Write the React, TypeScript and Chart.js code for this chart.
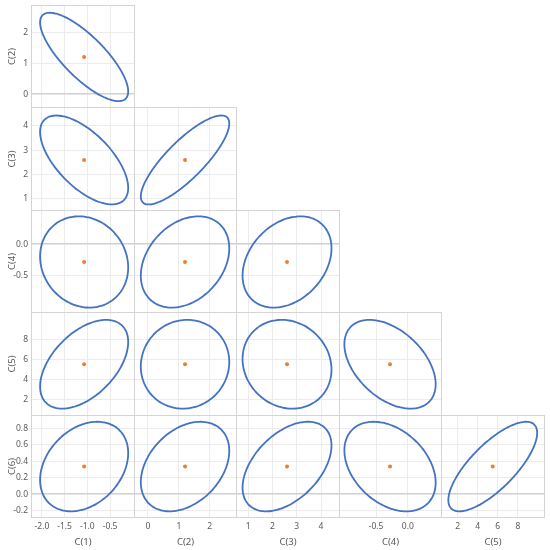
import React, { useEffect, useRef } from "react";
import { Chart, registerables } from "chart.js";
Chart.register(...registerables);

// ---- data ----
const varNames = ["C(1)", "C(2)", "C(3)", "C(4)", "C(5)", "C(6)"];
const means = [-1.07, 1.2, 2.6, -0.28, 5.5, 0.336];
const halfExtents = [0.97, 1.43, 1.83, 0.72, 4.42, 0.545];
const axisMin = [-2.24, -0.45, 0.5, -1.085, 0.35, -0.29];
const axisMax = [0.05, 2.88, 4.78, 0.54, 10.7, 0.963];
const tickC1 = [-2.0, -1.5, -1.0, -0.5];
const tickC2 = [0, 1, 2];
const tickC3 = [1, 2, 3, 4];
const tickC4 = [-0.5, 0.0];
const tickC5 = [2, 4, 6, 8];
const tickC6 = [-0.2, 0.0, 0.2, 0.4, 0.6, 0.8];
const tickLists = [tickC1, tickC2, tickC3, tickC4, tickC5, tickC6];
const tickDecimals = [1, 0, 0, 1, 0, 1];
// correlation of each pair [x variable, y variable, r]
const correlations: [number, number, number][] = [
  [0, 1, -0.78],
  [0, 2, -0.63],
  [1, 2, 0.82],
  [0, 3, -0.12],
  [1, 3, 0.3],
  [2, 3, 0.3],
  [0, 4, 0.5],
  [1, 4, 0.05],
  [2, 4, -0.12],
  [3, 4, -0.45],
  [0, 5, 0.3],
  [1, 5, 0.35],
  [2, 5, 0.47],
  [3, 5, -0.36],
  [4, 5, 0.75],
];

// ---- layout ----
const colEdges = [31, 134, 236, 339, 441, 544];
const rowEdges = [5, 107, 210, 312, 415, 517];
const Y_AXIS_W = 31;
const X_AXIS_H = 34;
const TICK_FONT = { family: "'Noto Sans', sans-serif", size: 8.5 };
const TITLE_FONT = { family: "'Noto Sans', sans-serif", size: 9.5 };
const TEXT_COLOR = "#595959";
const LINE_COLOR = "#4472C4";
const DOT_COLOR = "#ED7D31";

function ellipsePoints(xi: number, yi: number, r: number) {
  const pts: { x: number; y: number }[] = [];
  const n = 120;
  const s = Math.sqrt(1 - r * r);
  for (let k = 0; k <= n; k++) {
    const t = (2 * Math.PI * k) / n;
    pts.push({
      x: means[xi] + halfExtents[xi] * Math.cos(t),
      y: means[yi] + halfExtents[yi] * (r * Math.cos(t) + s * Math.sin(t)),
    });
  }
  return pts;
}

const borderPlugin = {
  id: "cellBorder",
  beforeDatasetsDraw(chart: any) {
    const { ctx, chartArea: a } = chart;
    ctx.save();
    ctx.strokeStyle = "#d4d4d4";
    ctx.lineWidth = 1;
    ctx.strokeRect(a.left + 0.5, a.top + 0.5, a.right - a.left - 1, a.bottom - a.top - 1);
    ctx.restore();
  },
};

function Cell({ xi, yi, r, ci, ri }: { xi: number; yi: number; r: number; ci: number; ri: number }) {
  const ref = useRef<HTMLCanvasElement>(null);
  const isLeft = ci === 0;
  const isBottom = ri === 4;
  const cellW = colEdges[ci + 1] - colEdges[ci] + 1;
  const cellH = rowEdges[ri + 1] - rowEdges[ri] + 1;
  const w = cellW + (isLeft ? Y_AXIS_W : 0);
  const h = cellH + (isBottom ? X_AXIS_H : 0);
  const left = colEdges[ci] - (isLeft ? Y_AXIS_W : 0);
  const top = rowEdges[ri];

  useEffect(() => {
    const chart = new Chart(ref.current!, {
      type: "scatter",
      data: {
        datasets: [
          {
            data: ellipsePoints(xi, yi, r),
            showLine: true,
            borderColor: LINE_COLOR,
            borderWidth: 1.8,
            borderJoinStyle: "round",
            borderCapStyle: "round",
            pointRadius: 0,
            pointHoverRadius: 0,
            fill: false,
            tension: 0.2,
          },
          {
            data: [{ x: means[xi], y: means[yi] }],
            pointRadius: 2,
            pointHoverRadius: 2,
            pointBackgroundColor: DOT_COLOR,
            pointBorderWidth: 0,
            showLine: false,
          },
        ],
      },
      options: {
        responsive: false,
        animation: false,
        events: [],
        layout: { padding: 0, autoPadding: false },
        plugins: { legend: { display: false }, tooltip: { enabled: false } },
        scales: {
          x: {
            type: "linear",
            min: axisMin[xi],
            max: axisMax[xi],
            border: { display: false },
            grid: { drawTicks: false, color: "#ececec", lineWidth: 1 },
            ticks: {
              display: isBottom,
              padding: 3,
              font: TICK_FONT,
              color: TEXT_COLOR,
              maxRotation: 0,
              autoSkip: false,
              callback: (v: any) => Number(v).toFixed(tickDecimals[xi]),
            },
            title: {
              display: isBottom,
              text: varNames[xi],
              font: TITLE_FONT,
              color: TEXT_COLOR,
              padding: { top: 0, bottom: 4 },
            },
            afterBuildTicks: (s: any) => {
              s.ticks = tickLists[xi].map((v) => ({ value: v }));
            },
            afterFit: (s: any) => {
              s.height = isBottom ? X_AXIS_H : 0;
              s.paddingLeft = 0;
              s.paddingRight = 0;
            },
          },
          y: {
            type: "linear",
            min: axisMin[yi],
            max: axisMax[yi],
            border: { display: false },
            grid: {
              drawTicks: false,
              color: (c: any) => (c.tick && c.tick.value === 0 ? "#d0d0d0" : "#ececec"),
              lineWidth: (c: any) => (c.tick && c.tick.value === 0 ? 1.5 : 1),
            },
            ticks: {
              display: isLeft,
              padding: 3,
              font: TICK_FONT,
              color: TEXT_COLOR,
              autoSkip: false,
              callback: (v: any) => Number(v).toFixed(tickDecimals[yi]),
            },
            title: {
              display: isLeft,
              text: varNames[yi],
              font: TITLE_FONT,
              color: TEXT_COLOR,
              padding: { top: 7, bottom: 0 },
            },
            afterBuildTicks: (s: any) => {
              s.ticks = tickLists[yi].map((v) => ({ value: v }));
            },
            afterFit: (s: any) => {
              s.width = isLeft ? Y_AXIS_W : 0;
              s.paddingTop = 0;
              s.paddingBottom = 0;
            },
          },
        },
      },
      plugins: [borderPlugin],
    } as any);
    return () => chart.destroy();
  }, []);

  return (
    <canvas
      ref={ref}
      width={w}
      height={h}
      style={{ position: "absolute", left, top, width: w, height: h }}
    />
  );
}

export default function App() {
  return (
    <div
      style={{
        position: "absolute",
        left: 0,
        top: 0,
        width: 550,
        height: 550,
        background: "#ffffff",
        overflow: "hidden",
      }}
    >
      {correlations.map(([xi, yi, r]) => (
        <Cell key={`${xi}-${yi}`} xi={xi} yi={yi} r={r} ci={xi} ri={yi - 1} />
      ))}
    </div>
  );
}
